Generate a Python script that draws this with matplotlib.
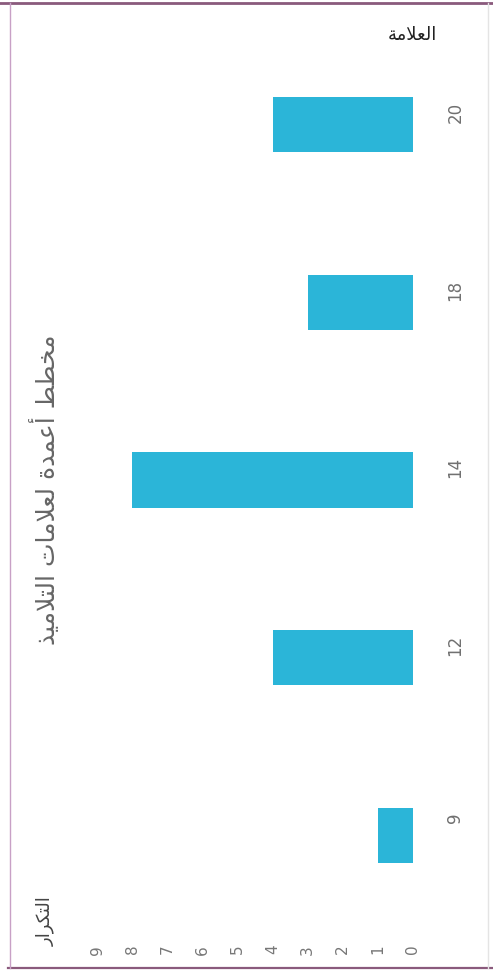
import numpy as np
import matplotlib
matplotlib.use("Agg")
import matplotlib.pyplot as plt
from matplotlib.lines import Line2D

marks = ["9", "12", "14", "18", "20"]
counts = [1, 4, 8, 3, 4]
value_ticks = list(range(0, 10))

title = "مخطط أعمدة لعلامات التلاميذ"
ylabel_txt = "التكرار"
xlabel_txt = "العلامة"

# arabic presentation forms: (isolated, final, initial, medial)
FORMS = {
    "ا": ("\uFE8D", "\uFE8E", None, None),
    "أ": ("\uFE83", "\uFE84", None, None),
    "ة": ("\uFE93", "\uFE94", None, None),
    "ت": ("\uFE95", "\uFE96", "\uFE97", "\uFE98"),
    "خ": ("\uFEA5", "\uFEA6", "\uFEA7", "\uFEA8"),
    "د": ("\uFEA9", "\uFEAA", None, None),
    "ذ": ("\uFEAB", "\uFEAC", None, None),
    "ر": ("\uFEAD", "\uFEAE", None, None),
    "ط": ("\uFEC1", "\uFEC2", "\uFEC3", "\uFEC4"),
    "ع": ("\uFEC9", "\uFECA", "\uFECB", "\uFECC"),
    "ك": ("\uFED9", "\uFEDA", "\uFEDB", "\uFEDC"),
    "ل": ("\uFEDD", "\uFEDE", "\uFEDF", "\uFEE0"),
    "م": ("\uFEE1", "\uFEE2", "\uFEE3", "\uFEE4"),
    "ي": ("\uFEF1", "\uFEF2", "\uFEF3", "\uFEF4"),
    "لا": ("\uFEFB", "\uFEFC", None, None),
}


def shape_word(word):
    units = []
    i = 0
    while i < len(word):
        if word[i:i + 2] == "لا":
            units.append("لا")
            i += 2
        else:
            units.append(word[i])
            i += 1
    out = []
    for k, u in enumerate(units):
        iso, fin, ini, med = FORMS[u]
        prev_j = k > 0 and FORMS[units[k - 1]][2] is not None
        next_j = ini is not None and k < len(units) - 1
        if prev_j and next_j:
            out.append(med)
        elif prev_j:
            out.append(fin)
        elif next_j:
            out.append(ini)
        else:
            out.append(iso)
    return "".join(out)


def ar(text):
    shaped = " ".join(shape_word(w) for w in text.split(" "))
    return shaped[::-1]


W, H = 493, 973
fig = plt.figure(figsize=(W / 100, H / 100), dpi=100)
fig.patch.set_facecolor("white")

ax = fig.add_axes([62 / W, 49 / H, 351 / W, 888 / H])
pos = np.arange(len(marks))
ax.barh(pos, counts, height=0.31, color="#2bb5d8")
ax.set_xlim(10, 0)
ax.set_ylim(-0.5, 4.5)

ax.set_xticks(value_ticks)
ax.set_xticklabels([str(v) for v in value_ticks])
ax.tick_params(axis="x", length=0, pad=15, labelrotation=90,
               labelsize=11, labelcolor="#777777")

ax.yaxis.tick_right()
ax.set_yticks(pos + 0.09)
ax.set_yticklabels(marks)
ax.tick_params(axis="y", length=0, pad=24, labelrotation=90,
               labelsize=12, labelcolor="#707070")

for s in ax.spines.values():
    s.set_visible(False)

# texts
fig.text(45 / W, 1 - 490 / H, ar(title), rotation=90, ha="center", va="center",
         fontsize=18, color="#666666", family=["DejaVu Sans"])
fig.text(45 / W, 1 - 921 / H, ar(ylabel_txt), rotation=90, ha="center", va="center",
         fontsize=13, color="#444444", family=["DejaVu Sans"])
fig.text(412 / W, 1 - 35 / H, ar(xlabel_txt), rotation=0, ha="center", va="center",
         fontsize=13, color="#222222", family=["DejaVu Sans"])

# scanned page frame
def fline(x0, y0, x1, y1, color, lw):
    fig.add_artist(Line2D([x0 / W, x1 / W], [1 - y0 / H, 1 - y1 / H],
                          transform=fig.transFigure, color=color, lw=lw))

fline(0, 3, W, 3, "#8a5a7c", 2.0)
fline(8, 968, W, 968, "#8a5a7c", 1.6)
fline(10, 3, 10, 968, "#c8a0c6", 1.0)
fline(488, 3, 488, 968, "#e4e4e4", 1.0)

fig.savefig("out.png", dpi=100)
